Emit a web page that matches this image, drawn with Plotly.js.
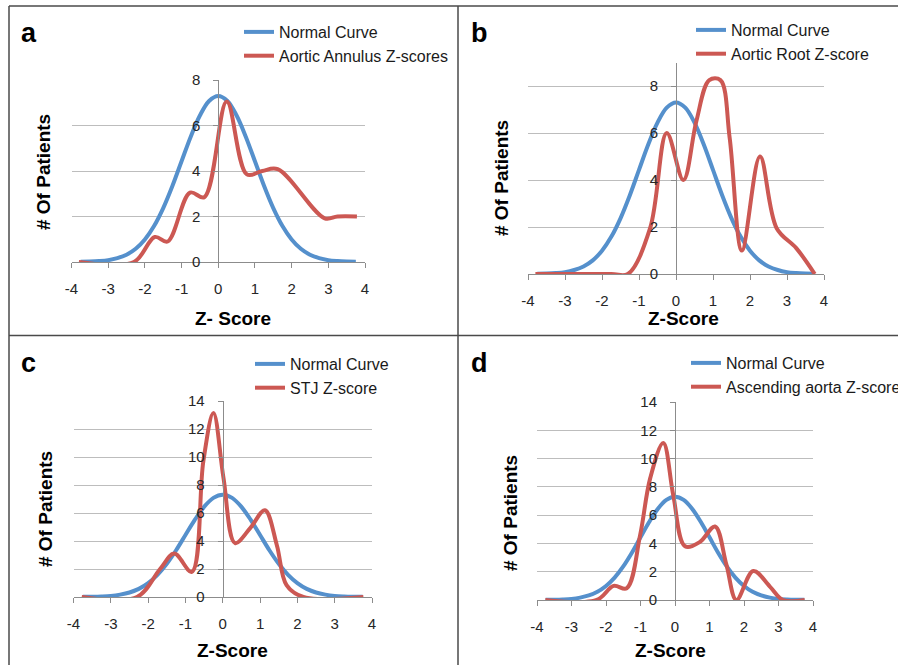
<!DOCTYPE html>
<html>
<head>
<meta charset="utf-8">
<script src="https://cdn.plot.ly/plotly-3.0.1.min.js"></script>
<style>
html,body{margin:0;padding:0;background:#fff;}
#chart{width:898px;height:665px;}
</style>
</head>
<body>
<div id="chart"></div>
<script>
// ---- data ----
const normalX = [-3.75,-3.5,-3.25,-3,-2.75,-2.5,-2.25,-2,-1.75,-1.5,-1.25,-1,-0.75,-0.5,-0.25,0,0.25,0.5,0.75,1,1.25,1.5,1.75,2,2.25,2.5,2.75,3,3.25,3.5,3.75];
const normalY = [0.01,0.02,0.04,0.08,0.17,0.32,0.58,0.99,1.58,2.37,3.34,4.43,5.51,6.44,7.08,7.3,7.08,6.44,5.51,4.43,3.34,2.37,1.58,0.99,0.58,0.32,0.17,0.08,0.04,0.02,0.01];

const annulusX = [-3.8,-2.3,-1.73,-1.38,-0.77,-0.38,0.23,0.78,1.2,1.62,2.9,3.25,3.78];
const annulusY = [0,0,1.1,0.9,3.05,2.85,7.05,3.85,4.0,4.08,1.92,2.0,2.0];

const rootX = [-3.8,-1.75,-1.3,-0.7,-0.25,0.2,0.55,0.9,1.2,1.45,1.78,2.27,2.72,3.25,3.75];
const rootY = [0,0,0,1.95,6.0,4.0,6.5,8.25,8.25,5.8,1.0,5.0,1.95,1.1,0];

const stjX = [-3.78,-2.3,-1.68,-1.3,-0.83,-0.52,-0.25,0.02,0.33,0.73,1.13,1.45,1.71,2.16,3.77];
const stjY = [0,0,2.0,3.1,1.8,9.7,13.15,8.5,3.85,4.9,6.2,3.7,0.85,0,0];

const ascX = [-3.76,-2.27,-1.78,-1.4,-1.01,-0.72,-0.34,-0.05,0.29,0.72,1.16,1.49,1.78,2.27,2.75,3.13,3.76];
const ascY = [0,0,1.0,0.83,4.6,8.6,11.1,7.4,3.8,4.1,5.2,2.5,0,2.05,0.95,0,0];

const panelLetters = ['a','b','c','d'];
const seriesNames = ['Aortic Annulus Z-scores','Aortic Root Z-score','STJ Z-score','Ascending aorta Z-score'];
const xTitles = ['Z- Score','Z-Score','Z-Score','Z-Score'];
const yTitle = '# Of Patients';
const xTicks = [-4,-3,-2,-1,0,1,2,3,4];

// ---- layout helpers ----
const W = 898, H = 665;
const px = v => v / W;
const py = v => 1 - v / H;

const BLUE = '#5590cc';
const RED = '#cc5853';
const FONT = 'Liberation Sans, Arial, sans-serif';

const redX = [annulusX, rootX, stjX, ascX];
const redY = [annulusY, rootY, stjY, ascY];

// pixel geometry per panel
const panels = [
  {x0:71.5, x1:365, yb:262, yt:80, ymax:8, zx:218.3, leg:[239,15], letter:[19,33], xt:[233,318], yt2:[43,172]},
  {x0:528, x1:824, yb:274, yt:62.5, ymax:9, zx:676, leg:[691,13], letter:[469,33], xt:[683,318], yt2:[501,178]},
  {x0:73.5, x1:372, yb:597, yt:401, ymax:14, zx:222.7, leg:[250,347], letter:[19,363], xt:[232,650], yt2:[45,509]},
  {x0:537, x1:813, yb:600, yt:402, ymax:14, zx:675, leg:[686,346], letter:[469,363], xt:[670,650], yt2:[510,513]}
];

const traces = [];
const layout = {
  width: W, height: H,
  margin: {l:0, r:0, t:0, b:0, autoexpand:false},
  paper_bgcolor: '#fff', plot_bgcolor: 'rgba(0,0,0,0)',
  font: {family: FONT, size: 15, color: '#262626'},
  showlegend: true,
  annotations: [],
  shapes: [
    {type:'line', xref:'paper', yref:'paper', x0:px(9), x1:1, y0:py(6), y1:py(6), line:{color:'#4a4a4a', width:1.5}},
    {type:'line', xref:'paper', yref:'paper', x0:px(9), x1:1, y0:py(335.5), y1:py(335.5), line:{color:'#4a4a4a', width:1.5}},
    {type:'line', xref:'paper', yref:'paper', x0:px(9), x1:px(9), y0:py(6), y1:0, line:{color:'#4a4a4a', width:1.5}},
    {type:'line', xref:'paper', yref:'paper', x0:px(458), x1:px(458), y0:py(6), y1:0, line:{color:'#4a4a4a', width:1.5}}
  ]
};

panels.forEach((p, i) => {
  const n = i === 0 ? '' : String(i + 1);
  const legName = i === 0 ? 'legend' : 'legend' + (i + 1);
  traces.push({
    x: normalX, y: normalY, type: 'scatter', mode: 'lines', name: 'Normal Curve',
    line: {color: BLUE, width: 4, shape: 'spline', smoothing: 1},
    xaxis: 'x' + n, yaxis: 'y' + n, legend: legName, hoverinfo: 'skip'
  });
  traces.push({
    x: redX[i], y: redY[i], type: 'scatter', mode: 'lines', name: seriesNames[i],
    line: {color: RED, width: 4, shape: 'spline', smoothing: 1},
    xaxis: 'x' + n, yaxis: 'y' + n, legend: legName, hoverinfo: 'skip'
  });

  layout['xaxis' + n] = {
    domain: [px(p.x0), px(p.x1)], range: [-4, 4], anchor: 'y' + n,
    tickmode: 'array', tickvals: xTicks, ticktext: xTicks.map(String),
    showgrid: false, zeroline: false, showline: true, linecolor: '#8c8c8c', linewidth: 1,
    ticks: 'outside', ticklen: 5, tickcolor: '#8c8c8c', tickwidth: 1,
    ticklabelstandoff: 8, tickfont: {family: FONT, size: 15, color: '#262626'}
  };
  layout['yaxis' + n] = {
    domain: [py(p.yb), py(p.yt)], range: [0, p.ymax], anchor: 'free', position: px(p.zx),
    dtick: 2, tick0: 0,
    showgrid: true, gridcolor: '#bdbdbd', gridwidth: 1, zeroline: false,
    showline: true, linecolor: '#8c8c8c', linewidth: 1,
    ticks: 'outside', ticklen: 5, tickcolor: '#8c8c8c',
    ticklabelstandoff: 10, tickfont: {family: FONT, size: 15, color: '#262626'}
  };
  layout[legName] = {
    x: px(p.leg[0]), y: py(p.leg[1]), xanchor: 'left', yanchor: 'top',
    xref: 'paper', yref: 'paper', bgcolor: 'rgba(0,0,0,0)', borderwidth: 0,
    font: {family: FONT, size: 16, color: '#1a1a1a'}, traceorder: 'normal',
    itemwidth: 30, tracegroupgap: 0
  };
  layout.annotations.push({
    text: '<b>' + panelLetters[i] + '</b>', xref: 'paper', yref: 'paper',
    x: px(p.letter[0]), y: py(p.letter[1]), xanchor: 'left', yanchor: 'middle',
    showarrow: false, font: {family: FONT, size: 27, color: '#000'}
  });
  layout.annotations.push({
    text: '<b>' + xTitles[i] + '</b>', xref: 'paper', yref: 'paper',
    x: px(p.xt[0]), y: py(p.xt[1]), xanchor: 'center', yanchor: 'middle',
    showarrow: false, font: {family: FONT, size: 19, color: '#000'}
  });
  layout.annotations.push({
    text: '<b>' + yTitle + '</b>', xref: 'paper', yref: 'paper', textangle: -90,
    x: px(p.yt2[0]), y: py(p.yt2[1]), xanchor: 'center', yanchor: 'middle',
    showarrow: false, font: {family: FONT, size: 19, color: '#000'}
  });
});

Plotly.newPlot('chart', traces, layout, {staticPlot: true, displayModeBar: false});
</script>
</body>
</html>
